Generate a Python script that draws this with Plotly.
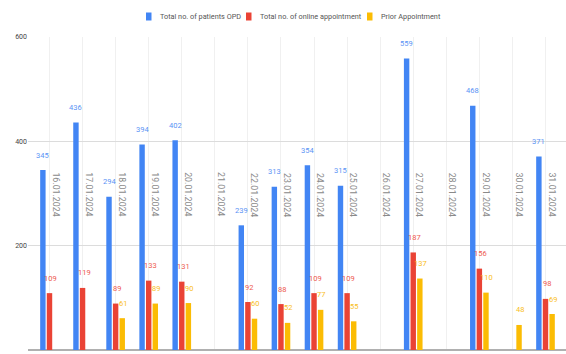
import plotly.graph_objects as go

# Daily OPD figures, 16–31 January 2024
dates = ["16.01.2024", "17.01.2024", "18.01.2024", "19.01.2024", "20.01.2024",
         "21.01.2024", "22.01.2024", "23.01.2024", "24.01.2024", "25.01.2024",
         "26.01.2024", "27.01.2024", "28.01.2024", "29.01.2024", "30.01.2024",
         "31.01.2024"]
opd_total = [345, 436, 294, 394, 402, None, 239, 313, 354, 315, None, 559, None, 468, None, 371]
online_appt = [109, 119, 89, 133, 131, None, 92, 88, 109, 109, None, 187, None, 156, None, 98]
prior_appt = [None, None, 61, 89, 90, None, 60, 52, 77, 55, None, 137, None, 110, 48, 69]

series_names = ["Total no. of patients OPD", "Total no. of online appointment", "Prior Appointment"]
series_values = [opd_total, online_appt, prior_appt]
bar_colors = ["#4285F4", "#EA4335", "#FBBC04"]
label_colors = ["#5a93f5", "#ee5b4f", "#f9be1c"]
label_nudge = [0, 1.5, 0.5]

W, H = 566, 354
ML, MR, MT, MB = 28, 0, 37, 4
PW, PH = W - ML - MR, H - MT - MB

BARGAP = 0.4
slot = (1 - BARGAP) / 3
offsets = [-slot, 0, slot]


def px_x(px):
    return (px - ML) / PW


def px_y(py):
    return (H - MB - py) / PH


fig = go.Figure()
for name, vals, col in zip(series_names, series_values, bar_colors):
    fig.add_trace(go.Bar(x=dates, y=vals, name=name, marker_color=col,
                         marker_line_width=0, showlegend=False))

annotations = []
shapes = []
# value labels above each bar
for vals, off, lc, nudge in zip(series_values, offsets, label_colors, label_nudge):
    for i, v in enumerate(vals):
        if v is None:
            continue
        annotations.append(dict(x=i + off, y=v, xref="x", yref="y", text=str(v),
                                showarrow=False, yshift=15, xshift=nudge,
                                font=dict(size=7.5, color=lc, family="Roboto")))
# vertical date labels inside the plot
for i, d in enumerate(dates):
    annotations.append(dict(x=i + offsets[2], y=298, xref="x", yref="y", text=d,
                            showarrow=False, textangle=90,
                            font=dict(size=8.8, color="#8a8a8a", family="Roboto")))

# compact legend row along the top
legend_left = [146, 246, 367]
for name, col, lx in zip(series_names, bar_colors, legend_left):
    shapes.append(dict(type="rect", xref="paper", yref="paper",
                       x0=px_x(lx), x1=px_x(lx + 5.5), y0=px_y(20.5), y1=px_y(12.5),
                       fillcolor=col, line_width=0))
    annotations.append(dict(x=px_x(lx + 11.5), y=px_y(16.5), xref="paper", yref="paper",
                            text=name, showarrow=False, xanchor="left", yanchor="middle",
                            font=dict(size=7.3, color="#555", family="Roboto")))

fig.update_layout(
    width=W, height=H,
    margin=dict(l=ML, r=MR, t=MT, b=MB),
    plot_bgcolor="white", paper_bgcolor="white",
    barmode="group", bargap=BARGAP, bargroupgap=0.18,
    font=dict(family="Roboto", size=7, color="#444"),
    annotations=annotations,
    shapes=shapes,
    showlegend=False,
)
fig.update_xaxes(showticklabels=False, showgrid=True, gridcolor="#f0f0f0",
                 gridwidth=1, range=[-0.65, 15.62], ticks="", zeroline=False)
fig.update_yaxes(range=[0, 600], tickvals=[0, 200, 400, 600], showgrid=True,
                 gridcolor="#dcdcdc", gridwidth=1, zeroline=True,
                 zerolinecolor="#b0b0b0", zerolinewidth=2,
                 tickfont=dict(size=7, color="#444"), ticks="")

fig.write_html("out.html")
